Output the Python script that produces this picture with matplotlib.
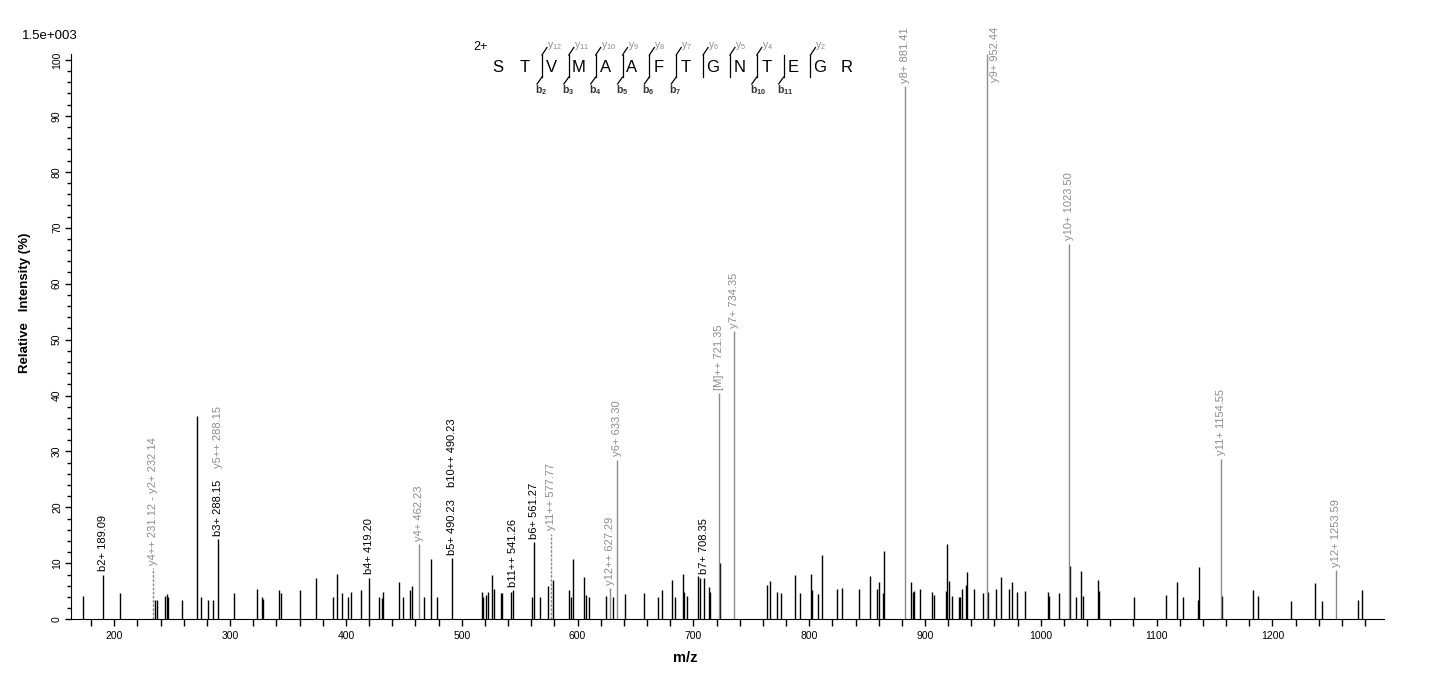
import matplotlib
matplotlib.use('Agg')
import matplotlib.pyplot as plt
from matplotlib.lines import Line2D
from matplotlib.ticker import MultipleLocator

plt.rcParams['font.family'] = ['Liberation Sans', 'DejaVu Sans']
plt.rcParams['mathtext.fontset'] = 'custom'
plt.rcParams['mathtext.rm'] = 'Liberation Sans'
plt.rcParams['mathtext.bf'] = 'Liberation Sans:bold'

# unlabelled peaks (m/z, relative intensity %)
peak_mz = [172.7, 204.6, 234.8, 236.6, 243.5, 245.8, 246.6, 258.7, 271.6, 275.1,
           281.1, 285.4, 303.6, 323.4, 327.7, 328.6, 342.4, 344.1, 360.5, 374.3,
           389.0, 392.4, 396.7, 401.9, 404.5, 413.1, 428.7, 431.3, 432.1, 445.9,
           449.4, 455.4, 457.1, 467.5, 473.5, 478.7,
           517.8, 518.7, 521.0, 522.7, 526.2, 527.9, 533.9, 534.8, 542.6, 560.7,
           567.6, 574.5, 578.8, 592.6, 594.3, 596.1, 605.5, 607.3, 609.9, 624.5,
           630.6, 640.9, 657.3, 669.4, 672.8, 681.5, 684.0, 691.0, 691.8, 694.4,
           703.9, 705.6, 713.4, 714.2, 722.9,
           763.4, 766.0, 772.0, 775.5, 787.6, 791.9, 802.0, 802.8, 807.4, 810.9,
           823.8, 828.1, 842.8, 852.3, 858.3, 860.0, 863.5, 864.4, 887.7, 889.4,
           890.3, 895.4, 905.8, 907.5, 917.9, 918.8, 920.5, 923.1, 929.1, 930.0,
           931.7, 935.2, 936.0, 942.0,
           949.8, 954.1, 961.0, 965.3, 972.2, 974.8, 979.1, 986.0, 1005.9, 1006.7,
           1015.4, 1024.9, 1030.0, 1034.4, 1036.1, 1049.0, 1049.9, 1080.1, 1107.7,
           1117.2, 1122.4, 1135.3, 1137.0, 1156.0, 1182.8, 1187.9, 1216.4, 1236.3,
           1243.2, 1274.2, 1277.7]
peak_int = [4.2, 4.7, 3.5, 3.5, 4.2, 4.5, 4.0, 3.5, 36.4, 4.0,
            3.5, 3.4, 4.7, 5.4, 4.0, 3.7, 5.2, 4.7, 5.2, 7.4,
            4.0, 8.1, 4.7, 4.0, 4.9, 5.2, 4.0, 3.8, 4.9, 6.7,
            4.0, 5.2, 6.0, 4.0, 10.8, 4.0,
            4.9, 4.0, 4.3, 4.9, 7.9, 5.4, 4.7, 4.7, 4.9, 4.0,
            4.0, 6.0, 7.0, 5.2, 4.0, 10.8, 7.6, 4.3, 4.0, 4.2,
            4.0, 4.5, 4.7, 4.0, 5.2, 7.0, 4.0, 8.1, 4.9, 4.2,
            7.8, 7.4, 5.8, 4.9, 10.1,
            6.1, 6.8, 4.9, 4.7, 7.9, 4.7, 8.1, 5.2, 4.5, 11.5,
            5.4, 5.6, 5.4, 7.8, 5.4, 6.7, 4.7, 12.2, 6.7, 4.9,
            5.1, 5.4, 4.9, 4.3, 5.1, 13.5, 6.8, 4.2, 4.0, 4.0,
            5.4, 6.1, 8.5, 5.4,
            4.7, 4.9, 5.4, 7.6, 5.4, 6.7, 4.9, 5.1, 4.9, 4.2,
            4.7, 9.5, 4.0, 8.6, 4.2, 7.0, 5.1, 4.0, 4.3,
            6.7, 4.0, 3.5, 9.4, 4.2, 5.2, 4.2, 3.3, 6.5,
            3.3, 3.5, 5.2]

# annotated fragment peaks
ion_mz = [190.5, 233.1, 289.8, 420.0, 463.2, 491.7, 544.3, 562.4, 577.4, 628.0,
          634.0, 709.1, 722.0, 735.0, 882.5, 953.2, 1024.0, 1155.2, 1254.7]
ion_int = [8.0, 9.1, 14.3, 7.4, 13.4, 10.9, 5.2, 13.8, 15.3, 5.6,
           28.5, 7.4, 40.4, 51.5, 95.3, 101.0, 67.1, 28.7, 8.8]
ion_labels = [['b2+ 189.09'], ['y4++ 231.12 - y2+ 232.14'], ['b3+ 288.15', 'y5++ 288.15'],
              ['b4+ 419.20'], ['y4+ 462.23'], ['b5+ 490.23', 'b10++ 490.23'],
              ['b11++ 541.26'], ['b6+ 561.27'], ['y11++ 577.77'], ['y12++ 627.29'],
              ['y6+ 633.30'], ['b7+ 708.35'], ['[M]++ 721.35'], ['y7+ 734.35'],
              ['y8+ 881.41'], ['y9+ 952.44'], ['y10+ 1023.50'], ['y11+ 1154.55'],
              ['y12+ 1253.59']]
ion_dashed = [False, True, False, False, False, False, False, False, True, False,
              False, False, False, False, False, False, False, False, False]

sequence = 'STVMAAFTGNTEGR'
b_ions = [2, 3, 4, 5, 6, 7, 10, 11]
y_ions = [12, 11, 10, 9, 8, 7, 6, 5, 4, 2]

GRAY = '#8c8c8c'
W, H = 1436, 679


def fx(px):
    return px / W


def fy(py):
    return 1 - py / H


fig = plt.figure(figsize=(W / 100, H / 100), dpi=100)
ax = fig.add_axes([fx(70.7), fy(619.3), (1384 - 70.7) / W, (619.3 - 54.3) / H])

ax.vlines(peak_mz, 0, peak_int, colors='black', linewidth=1)
for mz, h, labs, dash in zip(ion_mz, ion_int, ion_labels, ion_dashed):
    col = 'black' if labs[0].startswith('b') else GRAY
    ax.vlines(mz, 0, h, colors=col, linewidth=1, linestyles=(0, (2, 1)) if dash else 'solid')

ax.set_xlim(162.4, 1296.3)
ax.set_ylim(0, 101)
for s in ['top', 'right']:
    ax.spines[s].set_visible(False)
ax.xaxis.set_major_locator(MultipleLocator(100))
ax.xaxis.set_minor_locator(MultipleLocator(20))
ax.yaxis.set_major_locator(MultipleLocator(10))
ax.yaxis.set_minor_locator(MultipleLocator(2))
ax.tick_params(axis='x', which='both', length=5, width=1, labelsize=7.5, pad=3.5)
ax.tick_params(axis='y', which='major', length=4.3, width=1, labelsize=7.5, pad=2, labelrotation=90)
ax.tick_params(axis='y', which='minor', length=2.9, width=1)
for lab in ax.get_yticklabels():
    lab.set_va('center')

# peak annotations, stacked when several on one peak;
# a label that would run off the top is hung beside its line instead
fig.canvas.draw()
rend = fig.canvas.get_renderer()
top_px = H - 27
for mz, h, labs in zip(ion_mz, ion_int, ion_labels):
    off = 2.5
    for lab in labs:
        col = 'black' if lab.startswith('b') else GRAY
        t = ax.annotate(lab, (mz, h), xytext=(0, off), textcoords='offset points',
                        rotation=90, ha='center', va='bottom', fontsize=8, color=col)
        ext = t.get_window_extent(rend)
        if ext.y1 > top_px:
            t.remove()
            t = ax.annotate(lab, (mz, top_px), xycoords=('data', 'figure pixels'),
                            xytext=(5.8, 0), textcoords='offset points',
                            rotation=90, ha='center', va='top', fontsize=8, color=col)
        off += ext.height * 72 / fig.dpi + 8.5

fig.text(fx(50), fy(36), '1.5e+003', ha='center', va='center', fontsize=9.5)
fig.text(fx(25), fy(303), 'Relative   Intensity (%)', rotation=90, ha='center', va='center',
         fontsize=9.5, weight='bold')
fig.text(fx(685), fy(657.5), 'm/z', ha='center', va='center', fontsize=10.5, weight='bold')

# peptide sequence header
x0, step = 497.7, 26.85
fig.text(fx(481), fy(47), '2+', ha='center', va='center', fontsize=9)
for i, aa in enumerate(sequence):
    fig.text(fx(x0 + i * step), fy(67.5), aa, ha='center', va='center', fontsize=12)
n = len(sequence)
for i in range(1, n):
    has_b = i in b_ions
    has_y = (n - i) in y_ions
    if not (has_b or has_y):
        continue
    xc = x0 + (i - 0.5) * step + 4
    fig.add_artist(Line2D([fx(xc), fx(xc)], [fy(55), fy(77)], color='black', linewidth=0.9))
    if has_y:
        fig.add_artist(Line2D([fx(xc), fx(xc + 5)], [fy(55), fy(47.5)], color='black', linewidth=0.9))
        fig.text(fx(xc + 5), fy(46.5), r'$\mathregular{y_{%d}}$' % (n - i), ha='left', va='center',
                 fontsize=7.5, color=GRAY)
    if has_b:
        fig.add_artist(Line2D([fx(xc), fx(xc - 5)], [fy(77), fy(84)], color='black', linewidth=0.9))
        fig.text(fx(xc - 7), fy(90), r'$\mathbf{b_{%d}}$' % i, ha='left', va='center',
                 fontsize=7.5, color='#333333')

fig.savefig('out.png', dpi=100)
